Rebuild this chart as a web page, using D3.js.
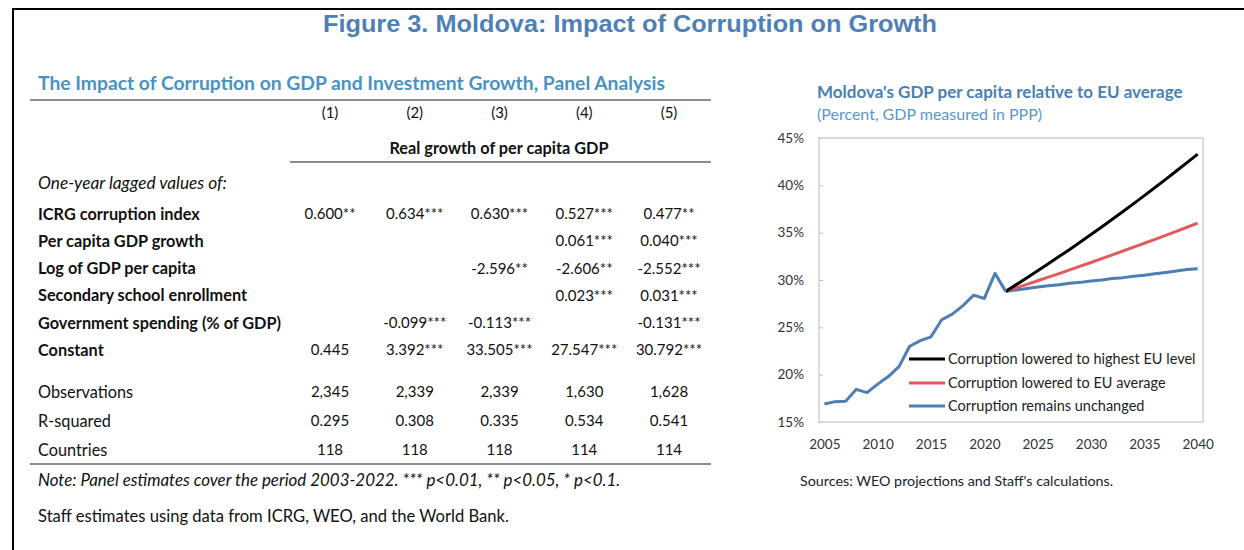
<!DOCTYPE html>
<html>
<head>
<meta charset="utf-8">
<script src="https://cdn.jsdelivr.net/npm/d3@7"></script>
<style>
  body { margin: 0; background: #fff; }
  svg text { font-family: Lato, "Open Sans", sans-serif; }
</style>
</head>
<body>
<svg id="fig" width="1244" height="550"></svg>
<script>
// ---- table data ----
var colHeads = ["(1)", "(2)", "(3)", "(4)", "(5)"];
var coefNames = ["ICRG corruption index", "Per capita GDP growth", "Log of GDP per capita",
                 "Secondary school enrollment", "Government spending (% of GDP)", "Constant"];
var coefVals = [
  ["0.600**", "0.634***", "0.630***", "0.527***", "0.477**"],
  ["", "", "", "0.061***", "0.040***"],
  ["", "", "-2.596**", "-2.606**", "-2.552***"],
  ["", "", "", "0.023***", "0.031***"],
  ["", "-0.099***", "-0.113***", "", "-0.131***"],
  ["0.445", "3.392***", "33.505***", "27.547***", "30.792***"]
];
var statNames = ["Observations", "R-squared", "Countries"];
var statVals = [
  ["2,345", "2,339", "2,339", "1,630", "1,628"],
  ["0.295", "0.308", "0.335", "0.534", "0.541"],
  ["118", "118", "118", "114", "114"]
];

// ---- chart data (percent of EU average) ----
var histYears = [2005, 2006, 2007, 2008, 2009, 2010, 2011, 2012, 2013, 2014, 2015, 2016, 2017, 2018, 2019, 2020, 2021, 2022];
var histVals  = [16.9, 17.15, 17.2, 18.45, 18.1, 19.0, 19.8, 20.85, 23.0, 23.6, 24.0, 25.8, 26.4, 27.3, 28.4, 28.05, 30.7, 28.8];
var projYears = [2022, 2023, 2024, 2025, 2026, 2027, 2028, 2029, 2030, 2031, 2032, 2033, 2034, 2035, 2036, 2037, 2038, 2039, 2040];
var highestEU = [28.8, 29.51, 30.23, 30.97, 31.71, 32.47, 33.23, 34.01, 34.8, 35.6, 36.41, 37.23, 38.07, 38.91, 39.77, 40.63, 41.51, 42.4, 43.3];
var averageEU = [28.8, 29.17, 29.54, 29.92, 30.3, 30.68, 31.07, 31.46, 31.85, 32.25, 32.65, 33.06, 33.47, 33.88, 34.3, 34.72, 35.14, 35.57, 36.0];
var unchanged = [28.8, 28.95, 29.1, 29.25, 29.4, 29.5, 29.65, 29.75, 29.9, 30.0, 30.15, 30.25, 30.4, 30.5, 30.65, 30.8, 30.95, 31.1, 31.2];
var legendLabels = ["Corruption lowered to highest EU level", "Corruption lowered to EU average", "Corruption remains unchanged"];
var lineColors = ["#000000", "#e05b5e", "#4d7fb3"];

var svg = d3.select("#fig");

// frame lines (top and left)
svg.append("line").attr("x1", 13).attr("x2", 1244).attr("y1", 9).attr("y2", 9)
   .attr("stroke", "#000").attr("stroke-width", 2);
svg.append("line").attr("x1", 13).attr("x2", 13).attr("y1", 8).attr("y2", 550)
   .attr("stroke", "#000").attr("stroke-width", 2);

// main title
svg.append("text")
   .attr("x", 630).attr("y", 32)
   .attr("text-anchor", "middle")
   .style("font-family", "'Liberation Sans', Arial, sans-serif")
   .style("font-weight", "bold").style("font-size", "23px")
   .attr("fill", "#4e80b5")
   .attr("textLength", 614).attr("lengthAdjust", "spacingAndGlyphs")
   .text("Figure 3. Moldova: Impact of Corruption on Growth");

// ---------------- table ----------------
var tbl = svg.append("g");
var colX = d3.scalePoint().domain(colHeads).range([330, 669]);
var rowY = d3.scalePoint().domain(coefNames).range([214, 350]);
var statY = d3.scalePoint().domain(statNames).range([392, 450]);
var labelSize = "16.3px", valueSize = "15px";

tbl.append("text").attr("x", 38).attr("y", 83).attr("dy", "0.35em")
   .style("font-size", "19.3px").style("font-weight", "bold").attr("fill", "#4a92c1")
   .text("The Impact of Corruption on GDP and Investment Growth, Panel Analysis");

var rules = [[30, 711, 100], [290, 711, 162], [30, 711, 464]];
tbl.selectAll("line.rule").data(rules).join("line").attr("class", "rule")
   .attr("x1", function(d) { return d[0]; }).attr("x2", function(d) { return d[1]; })
   .attr("y1", function(d) { return d[2]; }).attr("y2", function(d) { return d[2]; })
   .attr("stroke", "#8c8c8c").attr("stroke-width", 2);

tbl.selectAll("text.colhead").data(colHeads).join("text").attr("class", "colhead")
   .attr("x", function(d) { return colX(d); }).attr("y", 113).attr("dy", "0.35em")
   .attr("text-anchor", "middle").style("font-size", valueSize).attr("fill", "#111")
   .text(function(d) { return d; });

tbl.append("text").attr("x", 499).attr("y", 148).attr("dy", "0.35em")
   .attr("text-anchor", "middle").style("font-size", labelSize).style("font-weight", "bold")
   .attr("fill", "#111").text("Real growth of per capita GDP");

tbl.append("text").attr("x", 38).attr("y", 183).attr("dy", "0.35em")
   .style("font-size", "17.3px").style("font-style", "italic").attr("fill", "#111")
   .text("One-year lagged values of:");

coefNames.forEach(function(name, i) {
  tbl.append("text").attr("x", 38).attr("y", rowY(name)).attr("dy", "0.35em")
     .style("font-size", labelSize).style("font-weight", "bold").attr("fill", "#111")
     .text(name);
  tbl.selectAll("text.c" + i).data(coefVals[i]).join("text").attr("class", "c" + i)
     .attr("x", function(d, j) { return colX(colHeads[j]); }).attr("y", rowY(name)).attr("dy", "0.35em")
     .attr("text-anchor", "middle").style("font-size", valueSize).attr("fill", "#111")
     .text(function(d) { return d; });
});

statNames.forEach(function(name, i) {
  tbl.append("text").attr("x", 38).attr("y", statY(name)).attr("dy", "0.35em")
     .style("font-size", labelSize).attr("fill", "#111").text(name);
  tbl.selectAll("text.s" + i).data(statVals[i]).join("text").attr("class", "s" + i)
     .attr("x", function(d, j) { return colX(colHeads[j]); }).attr("y", statY(name)).attr("dy", "0.35em")
     .attr("text-anchor", "middle").style("font-size", valueSize).attr("fill", "#111")
     .text(function(d) { return d; });
});

tbl.append("text").attr("x", 38).attr("y", 480).attr("dy", "0.35em")
   .style("font-size", "16.9px").style("font-style", "italic").attr("fill", "#111")
   .text("Note: Panel estimates cover the period 2003-2022. *** p<0.01, ** p<0.05, * p<0.1.");

tbl.append("text").attr("x", 38).attr("y", 516).attr("dy", "0.35em")
   .style("font-size", "16.6px").attr("fill", "#111")
   .text("Staff estimates using data from ICRG, WEO, and the World Bank.");

// ---------------- chart ----------------
var x = d3.scaleLinear().domain([2004.5, 2040.5]).range([819, 1203]);
var y = d3.scaleLinear().domain([15, 45]).range([422, 138]);

svg.append("text").attr("x", 817).attr("y", 92).attr("dy", "0.35em")
   .style("font-size", "17px").style("font-weight", "bold").attr("fill", "#4a7fb2")
   .text("Moldova's GDP per capita relative to EU average");
svg.append("text").attr("x", 817).attr("y", 114).attr("dy", "0.35em")
   .style("font-size", "16px").attr("fill", "#5b97cc")
   .text("(Percent, GDP measured in PPP)");

// y axis with small inward ticks
var yAxis = svg.append("g").attr("transform", "translate(819,0)")
   .call(d3.axisLeft(y).tickValues([15, 20, 25, 30, 35, 40, 45])
         .tickFormat(function(d) { return d + "%"; })
         .tickSizeInner(-4).tickSizeOuter(0).tickPadding(15));
yAxis.select(".domain").remove();
yAxis.selectAll("line").attr("stroke", "#bbb");
yAxis.selectAll("text").style("font-size", "13.5px").attr("fill", "#333")
   .style("font-family", "Lato, sans-serif");

var xAxis = svg.append("g").attr("transform", "translate(0,422)")
   .call(d3.axisBottom(x).tickValues([2005, 2010, 2015, 2020, 2025, 2030, 2035, 2040])
         .tickFormat(d3.format("d")).tickSize(0).tickPadding(17));
xAxis.select(".domain").remove();
xAxis.selectAll("text").style("font-size", "13.5px").attr("fill", "#333")
   .style("font-family", "Lato, sans-serif");

// plot frame
svg.append("rect").attr("x", 819).attr("y", 138).attr("width", 384).attr("height", 284)
   .attr("fill", "none").attr("stroke", "#c9c9c9").attr("stroke-width", 1.3);

var line = d3.line().x(function(d) { return x(d[0]); }).y(function(d) { return y(d[1]); });
function pairs(years, vals) { return years.map(function(yr, i) { return [yr, vals[i]]; }); }

var series = [
  { pts: pairs(projYears, unchanged), color: lineColors[2] },
  { pts: pairs(projYears, averageEU), color: lineColors[1] },
  { pts: pairs(projYears, highestEU), color: lineColors[0] },
  { pts: pairs(histYears, histVals), color: lineColors[2] }
];
svg.selectAll("path.series").data(series).join("path").attr("class", "series")
   .attr("d", function(d) { return line(d.pts); })
   .attr("fill", "none").attr("stroke", function(d) { return d.color; })
   .attr("stroke-width", 3).attr("stroke-linejoin", "round");

// legend
var leg = svg.append("g");
var legY = [359, 383, 406];
legendLabels.forEach(function(lbl, i) {
  leg.append("line").attr("x1", 909).attr("x2", 945).attr("y1", legY[i]).attr("y2", legY[i])
     .attr("stroke", lineColors[i]).attr("stroke-width", 3);
  leg.append("text").attr("x", 948).attr("y", legY[i]).attr("dy", "0.35em")
     .style("font-size", "14.5px").attr("fill", "#222").text(lbl);
});

svg.append("text").attr("x", 800).attr("y", 481).attr("dy", "0.35em")
   .style("font-size", "14.3px").attr("fill", "#222")
   .text("Sources: WEO projections and Staff's calculations.");
</script>
</body>
</html>
